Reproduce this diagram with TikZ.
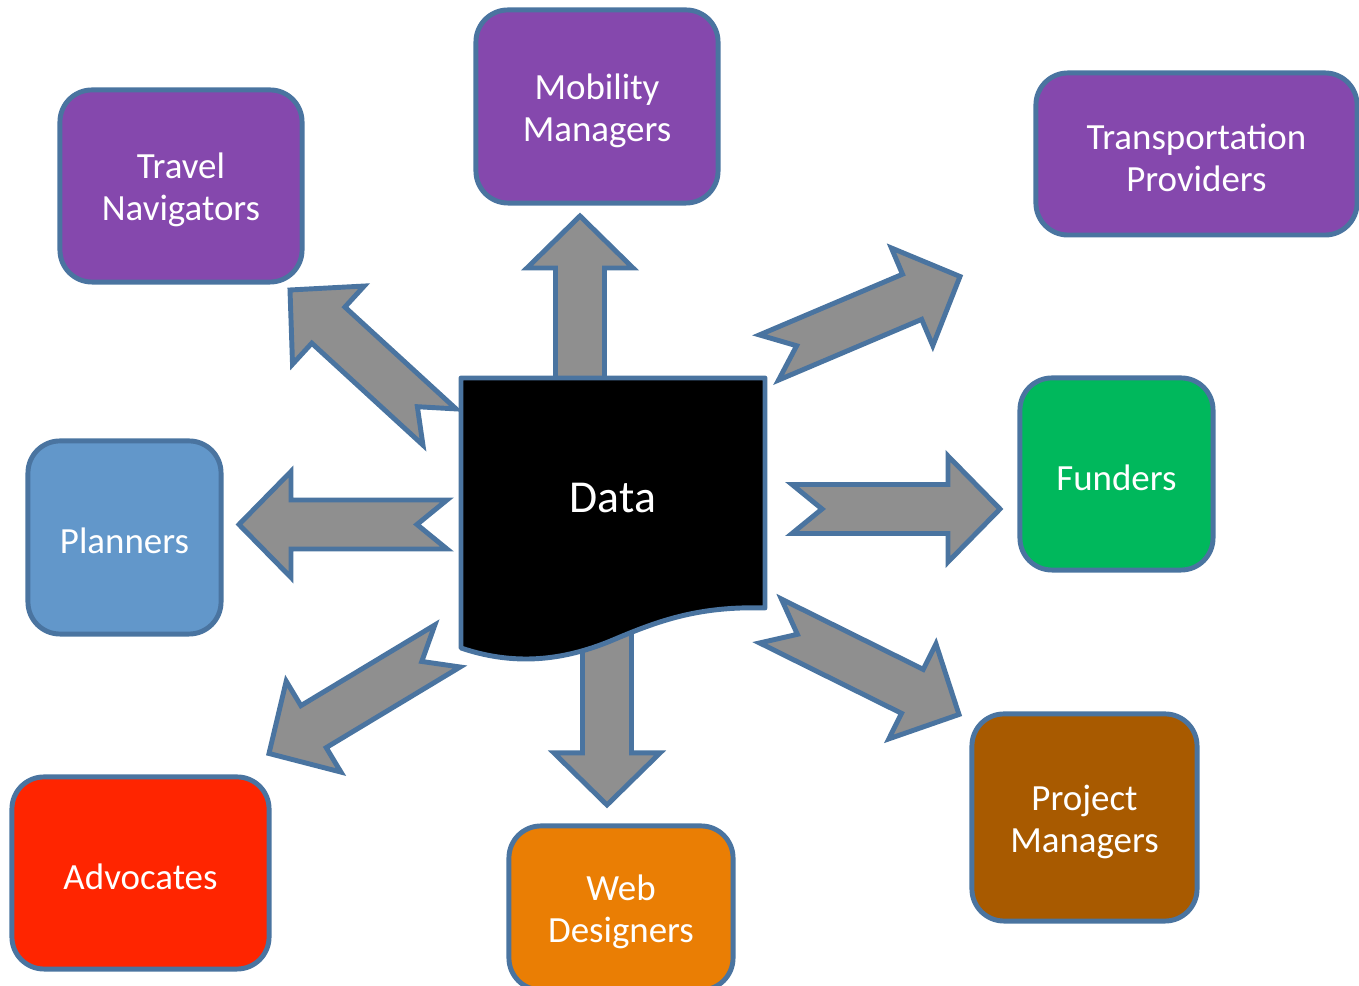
\documentclass[tikz,border=0pt]{standalone}
\usepackage{fontspec}
\setmainfont{Carlito}
\usetikzlibrary{calc}

\definecolor{rolepurple}{HTML}{8548AD}
\definecolor{roleblue}{HTML}{6297CA}
\definecolor{rolegreen}{HTML}{00B85C}
\definecolor{rolered}{HTML}{FF2500}
\definecolor{roleorange}{HTML}{EA7E04}
\definecolor{rolebrown}{HTML}{A85A00}
\definecolor{edgeblue}{HTML}{4A74A0}
\definecolor{arrowgray}{HTML}{8F8F8F}

% block arrow: tail, tip, notch depth
\newcommand{\blockarrow}[3]{%
  \coordinate (#2_hb) at ($(#2)!0.52cm!(#1)$);
  \draw[bigarrow] ($(#1)!0.245cm!90:(#2)$) -- ($(#2_hb)!0.245cm!90:(#2)$)
    -- ($(#2_hb)!0.53cm!90:(#2)$) -- (#2) -- ($(#2_hb)!0.53cm!-90:(#2)$)
    -- ($(#2_hb)!0.245cm!-90:(#2)$) -- ($(#1)!0.245cm!-90:(#2)$)
    -- ($(#1)!#3!(#2)$) -- cycle;
}

\begin{document}
\begin{tikzpicture}[
  x=0.01cm, y=-0.01cm,
  rolebox/.style={rectangle, rounded corners=0.32cm, draw=edgeblue, line width=1.4pt,
    text=white, align=center, font=\fontsize{10.5}{12}\selectfont, inner sep=0pt,
    execute at begin node={\rule{0pt}{9.3pt}}},
  twoline/.style={execute at begin node={\rule{0pt}{21.6pt}}},
  bigarrow/.style={draw=edgeblue, fill=arrowgray, line width=1.4pt, line join=miter},
  datashape/.style={draw=edgeblue, fill=black, line width=1.4pt, line join=round}
]
\useasboundingbox (0,0) rectangle (1359,986);

% Roles
\node[rolebox, twoline, fill=rolepurple, minimum width=2.42cm, minimum height=1.92cm] (travel_nav) at (181,186) {Travel\\Navigators};
\node[rolebox, twoline, fill=rolepurple, minimum width=2.42cm, minimum height=1.93cm] (mob_mgr) at (597,106.5) {Mobility\\Managers};
\node[rolebox, twoline, fill=rolepurple, minimum width=3.21cm, minimum height=1.62cm] (trans_prov) at (1196.5,154) {Transportation\\Providers};
\node[rolebox, fill=roleblue, minimum width=1.93cm, minimum height=1.93cm] (planners) at (124.5,537.5) {Planners};
\node[rolebox, fill=rolegreen, minimum width=1.93cm, minimum height=1.92cm] (funders) at (1116.5,474) {Funders};
\node[rolebox, fill=rolered, minimum width=2.57cm, minimum height=1.92cm] (advocates) at (140.5,873) {Advocates};
\node[rolebox, twoline, fill=roleorange, minimum width=2.24cm, minimum height=1.64cm] (web_des) at (621,908) {Web\\Designers};
\node[rolebox, twoline, fill=rolebrown, minimum width=2.25cm, minimum height=2.07cm] (proj_mgr) at (1084.5,817.5) {Project\\Managers};

% Arrow ends
\coordinate (up_t) at (580,380);   \coordinate (up_h) at (580,216);
\coordinate (dn_t) at (607,630);   \coordinate (dn_h) at (607,805);
\coordinate (lt_t) at (447,524.5); \coordinate (lt_h) at (239,524.5);
\coordinate (rt_t) at (792,509);   \coordinate (rt_h) at (1000,509);
\coordinate (ul_t) at (439.5,427); \coordinate (ul_h) at (290,290);
\coordinate (ur_t) at (769,357.5); \coordinate (ur_h) at (960,276.5);
\coordinate (ll_t) at (447.5,646); \coordinate (ll_h) at (269,753.5);
\coordinate (lr_t) at (770.5,621); \coordinate (lr_h) at (959,714.5);

\blockarrow{up_t}{up_h}{0cm}
\blockarrow{dn_t}{dn_h}{0cm}
\blockarrow{lt_t}{lt_h}{0.3cm}
\blockarrow{rt_t}{rt_h}{0.3cm}
\blockarrow{ul_t}{ul_h}{0.3cm}
\blockarrow{ur_t}{ur_h}{0.3cm}
\blockarrow{ll_t}{ll_h}{0.3cm}
\blockarrow{lr_t}{lr_h}{0.3cm}

% Data sheet
\draw[datashape] (461,378) -- (765,378) -- (765,608)
  .. controls (700,606) and (660,620) .. (613,640)
  .. controls (570,658) and (520,668) .. (461,648) -- cycle;
\node[text=white, font=\fontsize{13}{15}\selectfont] (data) at (613,498) {Data};

\end{tikzpicture}
\end{document}
